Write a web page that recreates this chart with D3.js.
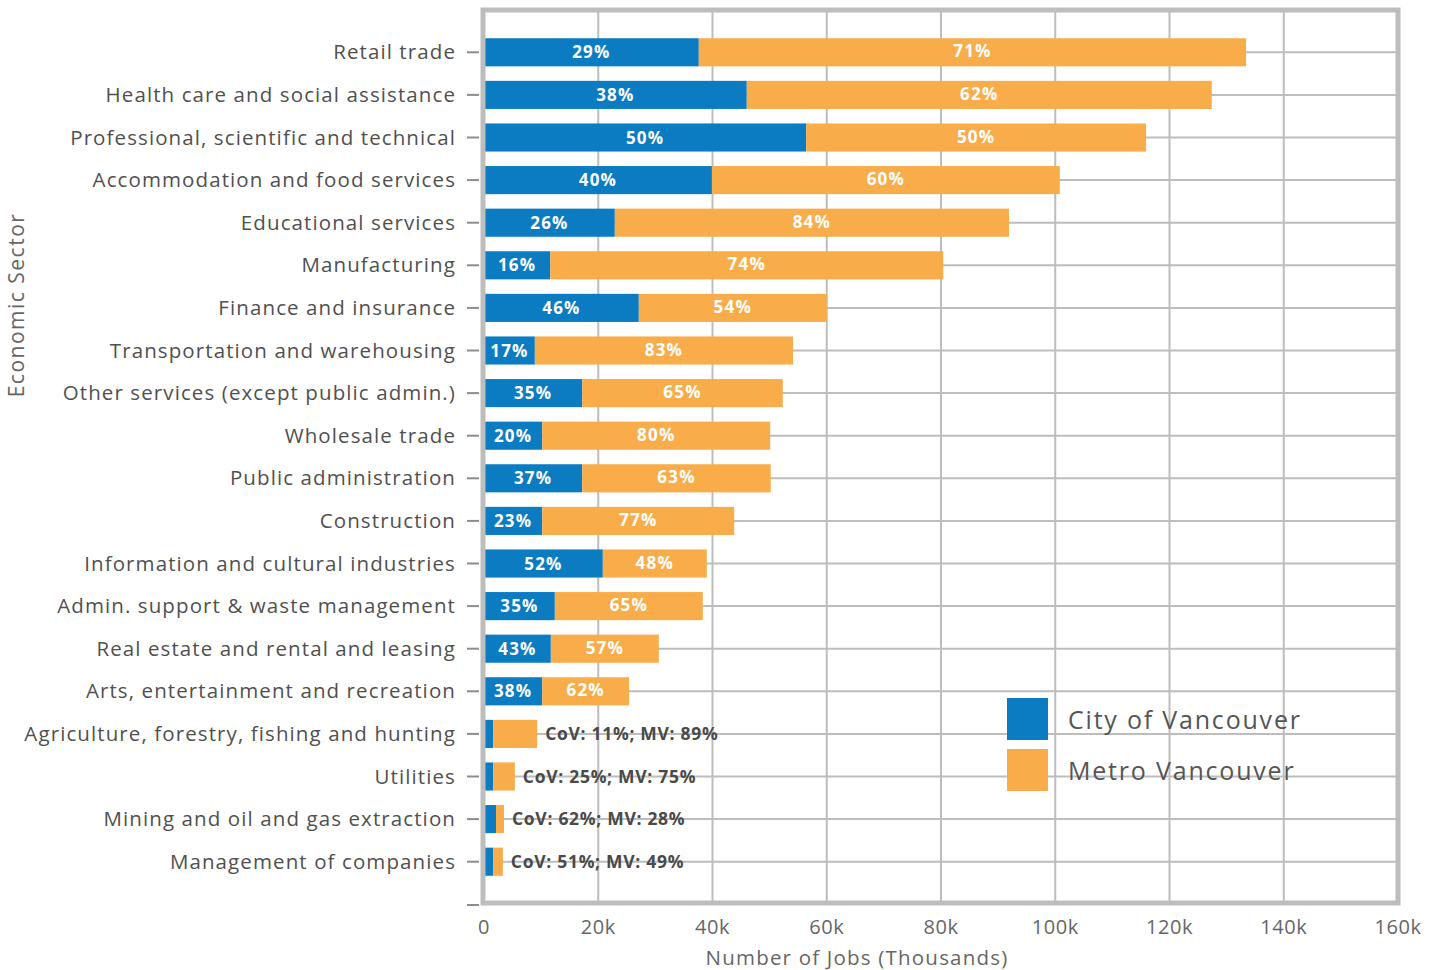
<!DOCTYPE html>
<html>
<head>
<meta charset="utf-8">
<script src="https://cdn.jsdelivr.net/npm/d3@7"></script>
<style>
  body { margin:0; background:#fff; }
  text { font-family: "Open Sans", sans-serif; }
</style>
</head>
<body>
<div id="plot"></div>
<script>
// data, jobs in thousands
var sectors = ["Retail trade","Health care and social assistance","Professional, scientific and technical",
  "Accommodation and food services","Educational services","Manufacturing","Finance and insurance",
  "Transportation and warehousing","Other services (except public admin.)","Wholesale trade",
  "Public administration","Construction","Information and cultural industries",
  "Admin. support & waste management","Real estate and rental and leasing",
  "Arts, entertainment and recreation","Agriculture, forestry, fishing and hunting","Utilities",
  "Mining and oil and gas extraction","Management of companies"];
var cityJobs  = [37.6,46.0,56.4,39.9,22.9,11.6,27.1,8.9,17.2,10.2,17.2,10.2,20.8,12.4,11.7,10.2,1.6,1.6,2.1,1.6];
var metroJobs = [95.8,81.4,59.5,60.9,69.0,68.8,32.9,45.2,35.1,39.9,33.0,33.6,18.2,25.9,18.9,15.2,7.7,3.8,1.4,1.7];
var cityPct  = [29,38,50,40,26,16,46,17,35,20,37,23,52,35,43,38,11,25,62,51];
var metroPct = [71,62,50,60,84,74,54,83,65,80,63,77,48,65,57,62,89,75,28,49];
var xTicks = [0,20,40,60,80,100,120,140,160];
var legendNames = ["City of Vancouver","Metro Vancouver"];

var blue = "#0b7cc1", orange = "#f9ad4a", grid = "#bdbdbd";

var W = 1440, H = 970;
var m = {t:10, r:42, b:67, l:484};
var w = W - m.l - m.r, h = H - m.t - m.b;

var svg = d3.select('#plot').append('svg').attr('width',W).attr('height',H);
var g = svg.append('g').attr('transform','translate('+m.l+','+m.t+')');

var rows = sectors.map(function(s,i){
  return {name:s, city:cityJobs[i], metro:metroJobs[i], cp:cityPct[i], mp:metroPct[i], small:(cityJobs[i]+metroJobs[i])<12};
});

var x = d3.scaleLinear().domain([0,160]).range([0,w]);
var y = d3.scaleBand().domain(sectors).range([21, h-20]).paddingInner(0.34).paddingOuter(0.17);

// vertical gridlines
g.selectAll('.vgrid').data(xTicks.slice(1,-1)).enter().append('line')
  .attr('class','vgrid')
  .attr('x1',function(d){return x(d);}).attr('x2',function(d){return x(d);})
  .attr('y1',0).attr('y2',h)
  .style('stroke',grid).style('stroke-width',2);

// horizontal gridlines at category centres
g.selectAll('.hgrid').data(sectors).enter().append('line')
  .attr('class','hgrid')
  .attr('x1',0).attr('x2',w)
  .attr('y1',function(d){return y(d)+y.bandwidth()/2;})
  .attr('y2',function(d){return y(d)+y.bandwidth()/2;})
  .style('stroke',grid).style('stroke-width',2);

// bars
var bars = g.selectAll('.row').data(rows).enter().append('g').attr('class','row')
  .attr('transform',function(d){return 'translate(0,'+y(d.name)+')';});

bars.append('rect')
  .attr('x',x(0)).attr('width',function(d){return x(d.city)-x(0);})
  .attr('height',y.bandwidth()).style('fill',blue);
bars.append('rect')
  .attr('x',function(d){return x(d.city);}).attr('width',function(d){return x(d.metro)-x(0);})
  .attr('height',y.bandwidth()).style('fill',orange);

var big = bars.filter(function(d){return !d.small;});
big.append('text')
  .attr('x',function(d){return x(d.city/2);})
  .attr('y',y.bandwidth()/2).attr('dy','0.36em')
  .attr('text-anchor','middle')
  .style('fill','#fff').style('font-weight',700).style('font-size','17px').style('letter-spacing','1.2px')
  .text(function(d){return d.cp+'%';});
big.append('text')
  .attr('x',function(d){return x(d.city + d.metro/2);})
  .attr('y',y.bandwidth()/2).attr('dy','0.3em')
  .attr('text-anchor','middle')
  .style('fill','#fff').style('font-weight',700).style('font-size','17px').style('letter-spacing','1.2px')
  .text(function(d){return d.mp+'%';});

bars.filter(function(d){return d.small;}).append('text')
  .attr('x',function(d){return x(d.city+d.metro)+8;})
  .attr('y',y.bandwidth()/2).attr('dy','0.36em')
  .style('fill','#4a4a4a').style('font-weight',700).style('font-size','17.5px').style('letter-spacing','0.7px')
  .text(function(d){return 'CoV: '+d.cp+'%; MV: '+d.mp+'%';});

// frame
g.append('rect').attr('x',-1).attr('y',0).attr('width',w+1).attr('height',h)
  .style('fill','none').style('stroke',grid).style('stroke-width',5);

// y axis ticks + labels
g.selectAll('.ytick').data(sectors).enter().append('line')
  .attr('x1',-17).attr('x2',-5)
  .attr('y1',function(d){return y(d)+y.bandwidth()/2;})
  .attr('y2',function(d){return y(d)+y.bandwidth()/2;})
  .style('stroke','#8c8c8c').style('stroke-width',2);
g.append('line').attr('x1',-17).attr('x2',-5).attr('y1',h+2).attr('y2',h+2)
  .style('stroke','#8c8c8c').style('stroke-width',2);
g.selectAll('.ylab').data(sectors).enter().append('text')
  .attr('x',-28).attr('y',function(d){return y(d)+y.bandwidth()/2;}).attr('dy','0.35em')
  .attr('text-anchor','end')
  .style('fill','#505050').style('font-size','20.5px').style('letter-spacing','1.1px')
  .text(function(d){return d;});

// x tick labels
g.selectAll('.xlab').data(xTicks).enter().append('text')
  .attr('x',function(d){return x(d);}).attr('y',h+31)
  .attr('text-anchor','middle')
  .style('fill','#666').style('font-size','20px').style('letter-spacing','0.6px')
  .text(function(d){return d===0?'0':d+'k';});

// axis titles
svg.append('text').attr('x',857).attr('y',H-5).attr('text-anchor','middle')
  .style('fill','#666').style('font-size','20.5px').style('letter-spacing','1.2px').text('Number of Jobs (Thousands)');
svg.append('text').attr('transform','translate(24,305) rotate(-90)').attr('text-anchor','middle')
  .style('fill','#666').style('font-size','21px').style('letter-spacing','1.5px').text('Economic Sector');

// legend
var lg = svg.append('g').attr('transform','translate(1007,698)');
lg.selectAll('rect').data(legendNames).enter().append('rect')
  .attr('x',0).attr('y',function(d,i){return i*51;}).attr('width',41).attr('height',42)
  .style('fill',function(d,i){return i===0?blue:orange;});
lg.selectAll('text').data(legendNames).enter().append('text')
  .attr('x',61).attr('y',function(d,i){return i*51+22;}).attr('dy','0.35em')
  .style('fill','#555').style('font-size','25px').style('letter-spacing','1.8px')
  .text(function(d){return d;});
</script>
</body>
</html>
